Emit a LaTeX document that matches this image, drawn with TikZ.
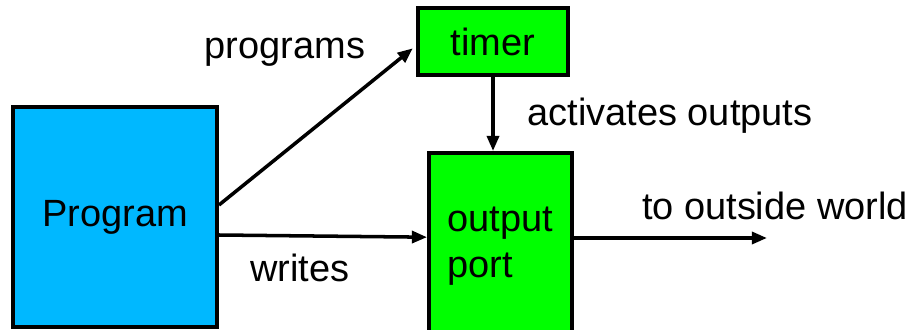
\documentclass[tikz,border=0pt]{standalone}
\usepackage{fontspec}
\setmainfont{Liberation Sans}
\usetikzlibrary{arrows.meta}

\definecolor{progblue}{RGB}{0,184,255}
\definecolor{portgreen}{RGB}{0,255,0}

\tikzset{
	box/.style={draw, line width=2.8pt, inner sep=0pt},
	arr/.style={line width=2.5pt, -{Triangle[length=0.38cm,width=0.3cm]}},
	lbl/.style={inner sep=0pt}
}

\begin{document}
\begin{tikzpicture}[font=\fontsize{27}{33}\selectfont]
		\useasboundingbox (0,0) rectangle (22.925,8.225);
		% the three blocks
		\node[box, fill=progblue, minimum width=5.1cm, minimum height=5.5cm] (prog) at (2.875,2.8) {Program};
		\node[box, fill=portgreen, minimum width=3.75cm, minimum height=1.675cm] (timer) at (12.325,7.1875) {timer};
		\node[box, fill=portgreen, minimum width=3.575cm, minimum height=4.65cm, align=left] (port) at (12.5125,2.075) {output\\port};
		\coordinate (world) at (19.175,2.275);
		% connections
		\draw[arr] ([yshift=0.3cm]prog.east) -- ([xshift=-0.08cm,yshift=-0.17cm]timer.west);
		\draw[arr] ([yshift=-0.45cm]prog.east) -- ([yshift=0.22cm]port.west);
		\draw[arr] (timer.south) -- (timer.south |- port.north);
		\draw[arr] ([yshift=0.2cm]port.east) -- (world);
		% labels
		\node[lbl] (lprog) at (7.125,6.925) {programs};
		\node[lbl] (lact) at (16.75,5.325) {activates outputs};
		\node[lbl] (lout) at (19.375,3.075) {to outside world};
		\node[lbl] (lwr) at (7.5,1.525) {writes};
	\end{tikzpicture}
\end{document}
